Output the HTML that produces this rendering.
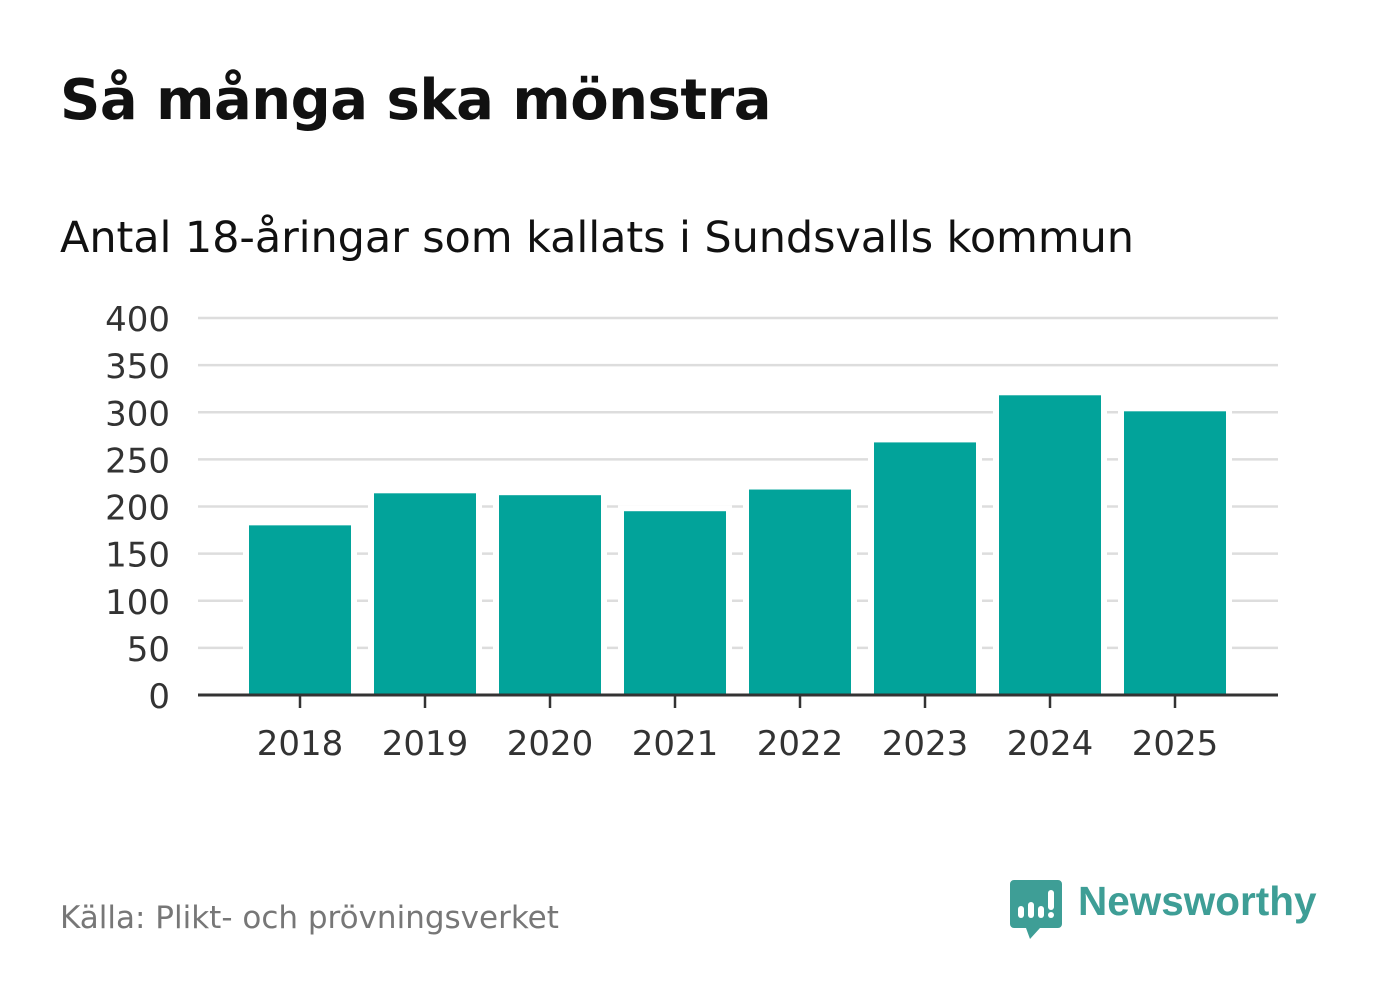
<!DOCTYPE html>
<html><head><meta charset="utf-8"><style>
body{margin:0;width:1382px;height:999px;background:#fff;font-family:"DejaVu Sans","Liberation Sans",sans-serif;overflow:hidden;position:relative}
.t{position:absolute;left:60px;top:68px;font-size:56px;font-weight:bold;color:#111;margin:0;letter-spacing:-0.5px}
.s{position:absolute;left:60px;top:213px;font-size:43px;color:#111;letter-spacing:-0.1px}
.src{position:absolute;left:60px;top:900px;font-size:31px;color:#777}
</style></head><body>
<h1 class="t">Så många ska mönstra</h1>
<div class="s">Antal 18-åringar som kallats i Sundsvalls kommun</div>
<svg id="c" width="1382" height="999" style="position:absolute;left:0;top:0"></svg>
<div class="src">Källa: Plikt- och prövningsverket</div>
<svg style="position:absolute;left:1010px;top:880px" width="52" height="60">
<path d="M4 0h44a4 4 0 0 1 4 4v40a4 4 0 0 1-4 4H30l-10 11-4-11H4a4 4 0 0 1-4-4V4a4 4 0 0 1 4-4z" fill="#3e9e96"/>
<rect x="8" y="26" width="6" height="12" rx="3" fill="#fff"/><rect x="18" y="22" width="6" height="16" rx="3" fill="#fff"/><rect x="28" y="26" width="6" height="12" rx="3" fill="#fff"/><rect x="38" y="10" width="6" height="20" rx="3" fill="#fff"/><circle cx="41" cy="35" r="3" fill="#fff"/>
</svg>
<div style="position:absolute;left:1078px;top:878px;font-size:40.5px;font-weight:bold;color:#3e9e96;font-family:'Liberation Sans',sans-serif">Newsworthy</div>
<script>
const categories=["2018","2019","2020","2021","2022","2023","2024","2025"];
const values=[180,214,212,195,218,268,318,301];
const yTicks=[0,50,100,150,200,250,300,350,400];
const NS="http://www.w3.org/2000/svg",svg=document.getElementById('c');
const y=v=>695-v*(377/400), x=i=>300+i*125;
function el(t,a){const e=document.createElementNS(NS,t);for(const k in a)e.setAttribute(k,a[k]);svg.appendChild(e);return e;}
yTicks.forEach(v=>{
 if(v>0){const g=el('line',{x1:198,x2:1278,y1:y(v),y2:y(v),stroke:'#ddd','stroke-width':2.5});
 
 }
 const t=el('text',{x:170,y:y(v)+13,'text-anchor':'end','font-size':34,fill:'#333','font-family':'DejaVu Sans, sans-serif'});t.textContent=v;
 
 
});
categories.forEach((c,i)=>{
 const b=el('rect',{x:x(i)-54,y:y(values[i])-3,width:108,height:695-y(values[i])+10,fill:'#02a39a',stroke:'#fff','stroke-width':6});
 
 
 const tk=el('line',{x1:x(i),x2:x(i),y1:695,y2:708,stroke:'#333','stroke-width':2.5});
 
 
 const t=el('text',{x:x(i),y:755,'text-anchor':'middle','font-size':34,fill:'#333','font-family':'DejaVu Sans, sans-serif'});t.textContent=c;
 
 
});
const cover=el('rect',{x:190,y:696.5,width:1100,height:12,fill:'#fff'});


categories.forEach((c,i)=>{
 const tk=el('line',{x1:x(i),x2:x(i),y1:695,y2:708,stroke:'#333','stroke-width':2.5});
 
 
});
const ax=el('line',{x1:198,x2:1278,y1:695,y2:695,stroke:'#333','stroke-width':3});


</script>
</body></html>
